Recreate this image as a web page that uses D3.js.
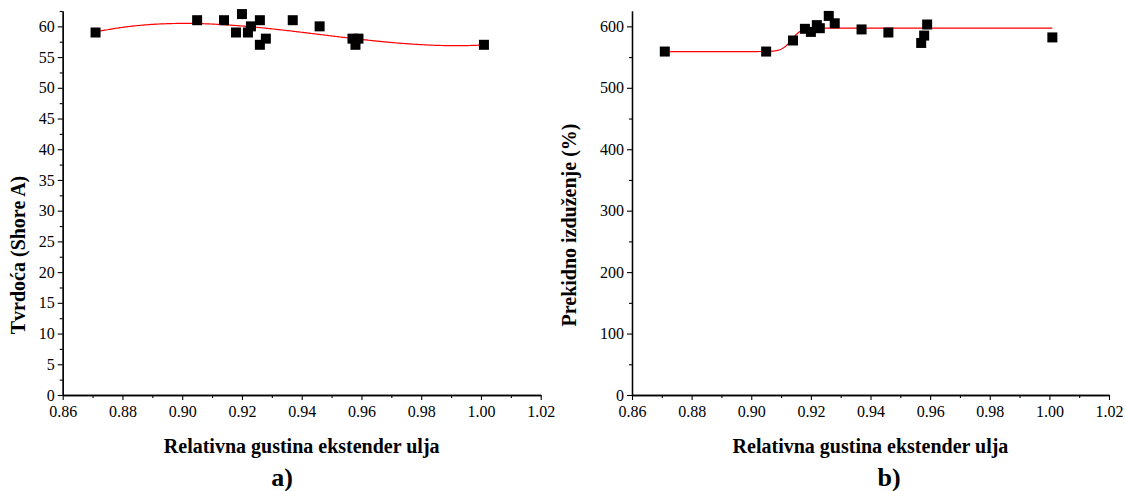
<!DOCTYPE html>
<html>
<head>
<meta charset="utf-8">
<script src="https://cdn.jsdelivr.net/npm/d3@7"></script>
<style>
  body { margin: 0; background: #fff; }
  svg text { font-family: "Liberation Serif", "Times New Roman", serif !important; fill: #000; }
</style>
</head>
<body>
<div id="app"></div>
<script>
// Hardness (Shore A) vs. relative density of the extender oil
const hardnessX = [0.871, 0.905, 0.914, 0.918, 0.920, 0.922, 0.923, 0.926, 0.926, 0.928, 0.937, 0.946, 0.957, 0.958, 0.959, 1.001];
const hardness  = [59, 61, 61, 59, 62, 59, 60, 61, 57, 58, 61, 60, 58, 57, 58, 57];

// Elongation at break (%) vs. relative density
const elongX     = [0.871, 0.905, 0.914, 0.918, 0.920, 0.922, 0.923, 0.926, 0.928, 0.937, 0.946, 0.957, 0.958, 0.959, 1.001];
const elongation = [559, 559, 577, 596, 591, 602, 597, 617, 605, 595, 590, 573, 585, 603, 582];

// Boltzmann fit for the elongation curve
const elongFit = { A1: 559, A2: 597, x0: 0.9135, dx: 0.0016 };

const xTicks = [0.86, 0.88, 0.90, 0.92, 0.94, 0.96, 0.98, 1.00, 1.02];
const hardnessTicks = [0, 5, 10, 15, 20, 25, 30, 35, 40, 45, 50, 55, 60];
const elongTicks = [0, 100, 200, 300, 400, 500, 600];

const W = 1125, H = 491;
const svg = d3.select('#app').append('svg').attr('width', W).attr('height', H);

// least squares polynomial of given order (normal equations, Gauss-Jordan)
function polyFit(xs, ys, order) {
  const n = order + 1;
  const A = Array.from({ length: n }, () => new Array(n + 1).fill(0));
  xs.forEach((x, k) => {
    for (let i = 0; i < n; i++) {
      for (let j = 0; j < n; j++) A[i][j] += Math.pow(x, i + j);
      A[i][n] += ys[k] * Math.pow(x, i);
    }
  });
  for (let c = 0; c < n; c++) {
    let p = c;
    for (let r = c + 1; r < n; r++) if (Math.abs(A[r][c]) > Math.abs(A[p][c])) p = r;
    const tmp = A[c]; A[c] = A[p]; A[p] = tmp;
    for (let r = 0; r < n; r++) {
      if (r === c) continue;
      const f = A[r][c] / A[c][c];
      for (let k = c; k <= n; k++) A[r][k] -= f * A[c][k];
    }
  }
  return A.map((row, i) => row[n] / row[i]);
}

const serif = '"Liberation Serif", "Times New Roman", serif';

function panel(opt) {
  const g = svg.append('g');
  const x = d3.scaleLinear().domain([0.86, 1.02]).range([opt.left, opt.right]);
  const y = d3.scaleLinear().domain([0, opt.yMax]).range([395, 11]);

  g.append('g').attr('transform', 'translate(0,395)')
    .call(d3.axisBottom(x).tickValues(xTicks).tickFormat(d3.format('.2f')).tickSize(5).tickSizeOuter(0).tickPadding(6));
  g.append('g').attr('transform', 'translate(0,395)')
    .call(d3.axisBottom(x).tickValues(d3.range(0.87, 1.02, 0.02)).tickFormat('').tickSize(3).tickSizeOuter(0));

  g.append('g').attr('transform', `translate(${opt.left},0)`)
    .call(d3.axisLeft(y).tickValues(opt.yTicks).tickSize(5).tickSizeOuter(0).tickPadding(3));
  g.append('g').attr('transform', `translate(${opt.left},0)`)
    .call(d3.axisLeft(y).tickValues(d3.range(opt.yMinor, opt.yMax + 0.001, opt.yMinor * 2)).tickFormat('').tickSize(3).tickSizeOuter(0));

  g.selectAll('g').attr('font-family', serif);
  g.selectAll('.domain').attr('stroke', '#000').attr('stroke-width', 1.3);
  g.selectAll('.tick line').attr('stroke', '#000').attr('stroke-width', 1.1);
  g.selectAll('.tick text').attr('font-size', 16).style('font-family', serif);

  // fitted curve
  const xs = d3.range(opt.x0, opt.x1 + 1e-9, (opt.x1 - opt.x0) / 300);
  g.append('path')
    .datum(xs)
    .attr('fill', 'none')
    .attr('stroke', '#ff0000')
    .attr('stroke-width', 1.2)
    .attr('d', d3.line().x((d) => x(d)).y((d) => y(opt.curve(d))));

  const s = 10;
  g.selectAll('rect.pt')
    .data(opt.xs.map((d, i) => [d, opt.ys[i]]))
    .join('rect')
    .attr('class', 'pt')
    .attr('x', (d) => x(d[0]) - s / 2)
    .attr('y', (d) => y(d[1]) - s / 2)
    .attr('width', s)
    .attr('height', s)
    .attr('fill', '#000');

  g.append('text')
    .attr('x', (opt.left + opt.right) / 2)
    .attr('y', 453)
    .attr('text-anchor', 'middle')
    .attr('font-size', 20)
    .attr('font-weight', 'bold')
    .style('font-family', serif)
    .text('Relativna gustina ekstender ulja');

  g.append('text')
    .attr('transform', `translate(${opt.yTitleX},${opt.yTitleY}) rotate(-90)`)
    .attr('text-anchor', 'middle')
    .attr('font-size', 20)
    .attr('font-weight', 'bold')
    .style('font-family', serif)
    .text(opt.yTitle);

  g.append('text')
    .attr('x', opt.tagX)
    .attr('y', 486)
    .attr('text-anchor', 'middle')
    .attr('font-size', 26)
    .attr('font-weight', 'bold')
    .style('font-family', serif)
    .text(opt.tag);
}

// cubic fit of hardness, using t = (x - 0.93) * 100
const coef = polyFit(hardnessX.map((d) => (d - 0.93) * 100), hardness, 3);

panel({
  left: 62.7, right: 540.7, yMax: 62.5, yTicks: hardnessTicks, yMinor: 2.5,
  xs: hardnessX, ys: hardness, x0: 0.871, x1: 1.001,
  curve: (v) => { const t = (v - 0.93) * 100; return coef[0] + coef[1] * t + coef[2] * t * t + coef[3] * t * t * t; },
  yTitle: 'Tvrdoća (Shore A)', yTitleX: 25, yTitleY: 255,
  tag: 'a)', tagX: 282
});

panel({
  left: 632, right: 1109, yMax: 625, yTicks: elongTicks, yMinor: 50,
  xs: elongX, ys: elongation, x0: 0.871, x1: 1.001,
  curve: (v) => elongFit.A2 + (elongFit.A1 - elongFit.A2) / (1 + Math.exp((v - elongFit.x0) / elongFit.dx)),
  yTitle: 'Prekidno izduženje (%)', yTitleX: 576, yTitleY: 225,
  tag: 'b)', tagX: 889
});
</script>
</body>
</html>
